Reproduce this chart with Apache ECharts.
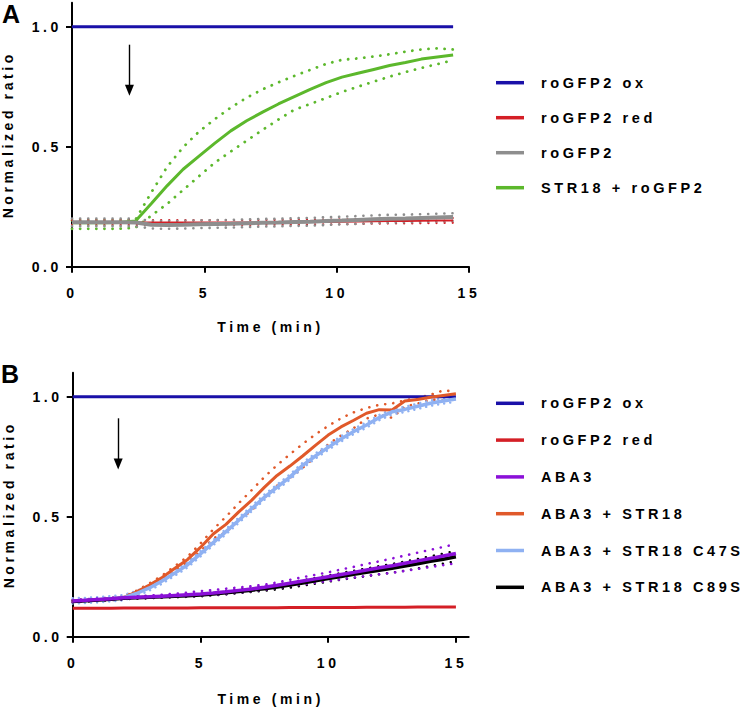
<!DOCTYPE html>
<html><head><meta charset="utf-8">
<script src="https://cdn.jsdelivr.net/npm/echarts@6/dist/echarts.min.js"></script>
<style>
html,body{margin:0;padding:0;background:#fff;}
#chart{width:750px;height:709px;}
#chart text{letter-spacing:3.6px;}
</style></head><body><div id="chart"></div>
<script>
// ---------- Panel A data ----------
const tA = [0,0.6,1.2,1.8,2.4,3.0,3.6,4.2,4.8,5.4,6.0,6.6,7.2,7.8,8.4,9.0,9.6,10.2,10.8,11.4,12.0,12.6,13.2,13.8,14.4];
const oxA = [1,1,1,1,1,1,1,1,1,1,1,1,1,1,1,1,1,1,1,1,1,1,1,1,1];
const greenA = [0.183,0.183,0.183,0.184,0.19,0.263,0.338,0.406,0.461,0.515,0.566,0.608,0.644,0.678,0.709,0.739,0.767,0.79,0.806,0.822,0.838,0.851,0.865,0.874,0.882];
const greenUpA = [0.193,0.193,0.193,0.193,0.196,0.31,0.417,0.498,0.563,0.615,0.663,0.704,0.739,0.768,0.795,0.82,0.845,0.862,0.868,0.876,0.885,0.896,0.905,0.91,0.905];
const greenLoA = [0.158,0.158,0.158,0.158,0.163,0.213,0.262,0.32,0.377,0.434,0.48,0.525,0.57,0.613,0.654,0.678,0.703,0.728,0.75,0.771,0.792,0.811,0.828,0.844,0.86];
const greyA = [0.185,0.185,0.185,0.185,0.184,0.175,0.174,0.175,0.177,0.178,0.179,0.181,0.183,0.184,0.186,0.187,0.19,0.192,0.195,0.198,0.2,0.201,0.203,0.205,0.207];
const greyUpA = [0.201,0.201,0.201,0.201,0.2,0.191,0.19,0.191,0.193,0.194,0.195,0.197,0.199,0.2,0.202,0.203,0.206,0.208,0.211,0.214,0.216,0.217,0.219,0.221,0.223];
const greyLoA = [0.169,0.169,0.169,0.169,0.168,0.159,0.158,0.159,0.161,0.162,0.163,0.165,0.167,0.168,0.17,0.171,0.174,0.176,0.179,0.182,0.184,0.185,0.187,0.189,0.191];
const redA = [0.184,0.184,0.184,0.184,0.184,0.184,0.184,0.184,0.184,0.184,0.184,0.184,0.185,0.185,0.185,0.186,0.186,0.187,0.188,0.189,0.19,0.19,0.191,0.192,0.193];
const redUpA = [0.194,0.194,0.194,0.194,0.194,0.194,0.194,0.194,0.194,0.194,0.194,0.194,0.195,0.195,0.195,0.196,0.196,0.197,0.198,0.199,0.2,0.2,0.201,0.202,0.203];
const redLoA = [0.174,0.174,0.174,0.174,0.174,0.174,0.174,0.174,0.174,0.174,0.174,0.174,0.175,0.175,0.175,0.176,0.176,0.177,0.178,0.179,0.18,0.18,0.181,0.182,0.183];
const arrowA = [2.17, 0.925, 0.735];

// ---------- Panel B data ----------
const tB = [0,0.5,1,1.5,2,2.5,3,3.5,4,4.5,5,5.5,6,6.5,7,7.5,8,8.5,9,9.5,10,10.5,11,11.5,12,12.5,13,13.5,14,14.5,15];
const oxB = [1,1,1,1,1,1,1,1,1,1,1,1,1,1,1,1,1,1,1,1,1,1,1,1,1,1,1,1,1,1,1];
const redB = [0.119,0.119,0.119,0.119,0.12,0.12,0.12,0.12,0.12,0.12,0.121,0.121,0.121,0.121,0.121,0.121,0.121,0.122,0.122,0.122,0.122,0.122,0.122,0.123,0.123,0.123,0.123,0.124,0.124,0.124,0.124];
const purpleB = [0.149,0.152,0.155,0.158,0.162,0.164,0.166,0.169,0.172,0.175,0.178,0.182,0.187,0.193,0.199,0.206,0.214,0.223,0.232,0.241,0.25,0.259,0.268,0.278,0.287,0.296,0.306,0.316,0.326,0.336,0.347];
const purpleUpB = [0.153,0.156,0.159,0.163,0.166,0.168,0.171,0.175,0.179,0.184,0.19,0.195,0.2,0.205,0.21,0.217,0.226,0.237,0.248,0.258,0.268,0.28,0.291,0.303,0.314,0.326,0.338,0.35,0.362,0.374,0.386];
const purpleLoB = [0.145,0.148,0.151,0.154,0.157,0.16,0.162,0.164,0.166,0.168,0.17,0.174,0.178,0.184,0.19,0.196,0.203,0.211,0.218,0.225,0.232,0.239,0.246,0.253,0.26,0.266,0.274,0.282,0.29,0.298,0.306];
const orangeB = [0.149,0.151,0.154,0.158,0.164,0.187,0.215,0.247,0.285,0.322,0.372,0.428,0.468,0.52,0.568,0.622,0.672,0.711,0.753,0.797,0.84,0.874,0.902,0.931,0.946,0.945,0.982,0.988,0.998,1.005,1.012];
const orangeUpB = [0.152,0.154,0.157,0.161,0.168,0.192,0.222,0.255,0.294,0.334,0.388,0.447,0.5,0.556,0.61,0.665,0.715,0.76,0.803,0.843,0.878,0.91,0.935,0.953,0.966,0.972,0.985,0.995,1.008,1.026,1.022];
const orangeLoB = [0.146,0.148,0.151,0.155,0.16,0.182,0.208,0.239,0.276,0.31,0.356,0.409,0.436,0.484,0.526,0.579,0.629,0.662,0.703,0.751,0.802,0.838,0.869,0.909,0.926,0.912,0.959,0.971,0.988,0.984,1.002];
const lblueB = [0.149,0.151,0.154,0.158,0.163,0.18,0.203,0.232,0.265,0.3,0.345,0.392,0.438,0.485,0.533,0.581,0.623,0.665,0.714,0.753,0.789,0.824,0.855,0.882,0.913,0.937,0.947,0.96,0.973,0.982,0.99];
const lblueUpB = [0.16,0.162,0.165,0.169,0.174,0.191,0.214,0.243,0.276,0.311,0.356,0.403,0.449,0.496,0.544,0.592,0.634,0.676,0.725,0.764,0.8,0.835,0.866,0.893,0.924,0.948,0.958,0.971,0.984,0.993,1.001];
const lblueLoB = [0.138,0.14,0.143,0.147,0.152,0.169,0.192,0.221,0.254,0.289,0.334,0.381,0.427,0.474,0.522,0.57,0.612,0.654,0.703,0.742,0.778,0.813,0.844,0.871,0.902,0.926,0.936,0.949,0.962,0.971,0.979];
const blackB = [0.147,0.15,0.153,0.156,0.16,0.162,0.164,0.166,0.169,0.171,0.174,0.178,0.183,0.188,0.194,0.2,0.207,0.215,0.224,0.233,0.242,0.251,0.26,0.268,0.277,0.285,0.294,0.304,0.314,0.323,0.333];
const blackUpB = [0.151,0.154,0.157,0.16,0.164,0.166,0.168,0.171,0.174,0.177,0.18,0.185,0.19,0.196,0.202,0.209,0.217,0.226,0.235,0.245,0.255,0.265,0.275,0.284,0.294,0.303,0.313,0.324,0.335,0.346,0.358];
const blackLoB = [0.143,0.146,0.149,0.152,0.156,0.158,0.16,0.162,0.164,0.166,0.168,0.172,0.176,0.181,0.186,0.191,0.197,0.204,0.213,0.221,0.229,0.237,0.245,0.252,0.26,0.267,0.275,0.284,0.294,0.304,0.315];
const arrowB = [1.78, 0.91, 0.72];

// ---------- labels ----------
const legendA = ['roGFP2 ox','roGFP2 red','roGFP2','STR18 + roGFP2'];
const legendB = ['roGFP2 ox','roGFP2 red','ABA3','ABA3 + STR18','ABA3 + STR18 C47S','ABA3 + STR18 C89S'];
const xTicks = [0,5,10,15];
const yTicks = [0,0.5,1.0];

const C = {ox:'#1a10a8', red:'#d41f26', grey:'#8e8e8e', green:'#5cb82c', purple:'#8b10d8', orange:'#e0592a', lblue:'#8fb1f2', black:'#000000'};
const FF = '"Liberation Sans", Arial, sans-serif';

const chart = echarts.init(document.getElementById('chart'), null, {renderer:'svg', width:750, height:709});

function pairs(t, v){ return t.map((x,i)=>[x, v[i]]); }
function solid(name, idx, t, v, color, w){
  return {name, type:'line', xAxisIndex:idx, yAxisIndex:idx, data:pairs(t,v), color,
    symbol:'none', lineStyle:{color, width:w}, silent:true, z:3};
}
function dotted(name, idx, t, v, color, w, gap){
  return {name, type:'line', xAxisIndex:idx, yAxisIndex:idx, data:pairs(t,v), color,
    symbol:'none', lineStyle:{color, width:w, type:[0.1, gap], cap:'round'}, silent:true, z:2};
}
function arrow(a){
  return {silent:true, symbol:['none','triangle'], symbolSize:[9,11], animation:false,
    lineStyle:{color:'#000', width:1.4, type:'solid'}, label:{show:false},
    emphasis:{disabled:true},
    data:[[{coord:[a[0], a[1]]},{coord:[a[0], a[2]]}]]};
}
const axisText = {color:'#000', fontSize:14, fontWeight:'bold', fontFamily:FF};
function xAxis(idx, max, gap){
  return {type:'value', gridIndex:idx, min:0, max, interval:5,
    name:'Time (min)', nameLocation:'middle', nameGap:gap, nameTextStyle:axisText,
    axisLine:{show:true, onZero:false, lineStyle:{color:'#000', width:2}},
    axisTick:{show:true, length:6, customValues:xTicks, lineStyle:{color:'#000', width:2}},
    axisLabel:Object.assign({customValues:xTicks, margin:19}, axisText),
    splitLine:{show:false}};
}
function yAxis(idx){
  return {type:'value', gridIndex:idx, min:0, max:1.1, interval:0.5,
    name:'Normalized ratio', nameLocation:'middle', nameGap:57, nameTextStyle:axisText,
    axisLine:{show:true, lineStyle:{color:'#000', width:2}},
    axisTick:{show:true, length:6, customValues:yTicks, lineStyle:{color:'#000', width:2}},
    axisLabel:Object.assign({customValues:yTicks, margin:10, formatter:v=>v.toFixed(1)}, axisText),
    splitLine:{show:false}};
}
const legendText = {color:'#000', fontSize:14.5, fontWeight:'bold', fontFamily:FF, lineHeight:20, padding:[0,0,0,12]};

const blueA = solid('roGFP2 ox', 0, tA, oxA, C.ox, 3);
blueA.markLine = arrow(arrowA);
const blueB = solid('roGFP2 ox', 1, tB, oxB, C.ox, 3);
blueB.markLine = arrow(arrowB);

const option = {
  animation:false,
  backgroundColor:'#fff',
  grid:[
    {left:72, top:2.7, width:397, height:264, containLabel:false, outerBoundsMode:'none'},
    {left:72.7, top:372.7, width:396, height:264, containLabel:false, outerBoundsMode:'none'}
  ],
  xAxis:[xAxis(0, 15, 53), xAxis(1, 15.5, 55.5)],
  yAxis:[yAxis(0), yAxis(1)],
  legend:[
    {data:legendA, orient:'vertical', left:496, top:72.7, padding:0, itemGap:15, itemWidth:28, itemHeight:3.5, icon:'rect', textStyle:legendText, selectedMode:false},
    {data:legendB, orient:'vertical', left:496, top:393.3, padding:0, itemGap:16.8, itemWidth:28, itemHeight:3.5, icon:'rect', textStyle:legendText, selectedMode:false}
  ],
  graphic:[
    {type:'text', left:2, top:1, style:{text:'A', font:'bold 25px "Liberation Sans", Arial, sans-serif', fill:'#000'}},
    {type:'text', left:1, top:361, style:{text:'B', font:'bold 25px "Liberation Sans", Arial, sans-serif', fill:'#000'}}
  ],
  series:[
    blueA,
    dotted('STR18 + roGFP2 upper', 0, tA, greenUpA, C.green, 2.8, 8),
    dotted('STR18 + roGFP2 lower', 0, tA, greenLoA, C.green, 2.8, 8),
    solid('STR18 + roGFP2', 0, tA, greenA, C.green, 3),
    dotted('roGFP2 red upper', 0, tA, redUpA, C.red, 2.2, 8),
    dotted('roGFP2 red lower', 0, tA, redLoA, C.red, 2.2, 8),
    solid('roGFP2 red', 0, tA, redA, C.red, 2),
    dotted('roGFP2 upper', 0, tA, greyUpA, C.grey, 2.6, 8),
    dotted('roGFP2 lower', 0, tA, greyLoA, C.grey, 2.6, 8),
    solid('roGFP2', 0, tA, greyA, C.grey, 4),

    blueB,
    solid('roGFP2 red', 1, tB, redB, C.red, 3),
    dotted('ABA3 + STR18 upper', 1, tB, orangeUpB, C.orange, 2.6, 8),
    dotted('ABA3 + STR18 lower', 1, tB, orangeLoB, C.orange, 2.6, 8),
    solid('ABA3 + STR18', 1, tB, orangeB, C.orange, 3),
    dotted('ABA3 + STR18 C47S upper', 1, tB, lblueUpB, C.lblue, 2.4, 6),
    dotted('ABA3 + STR18 C47S lower', 1, tB, lblueLoB, C.lblue, 2.4, 6),
    solid('ABA3 + STR18 C47S', 1, tB, lblueB, C.lblue, 3.5),
    dotted('ABA3 + STR18 C89S upper', 1, tB, blackUpB, C.black, 2.4, 8),
    dotted('ABA3 + STR18 C89S lower', 1, tB, blackLoB, C.black, 2.4, 8),
    solid('ABA3 + STR18 C89S', 1, tB, blackB, C.black, 3.5),
    dotted('ABA3 upper', 1, tB, purpleUpB, C.purple, 2.6, 8),
    dotted('ABA3 lower', 1, tB, purpleLoB, C.purple, 2.6, 8),
    solid('ABA3', 1, tB, purpleB, C.purple, 3.5)
  ]
};
chart.setOption(option);
</script></body></html>
